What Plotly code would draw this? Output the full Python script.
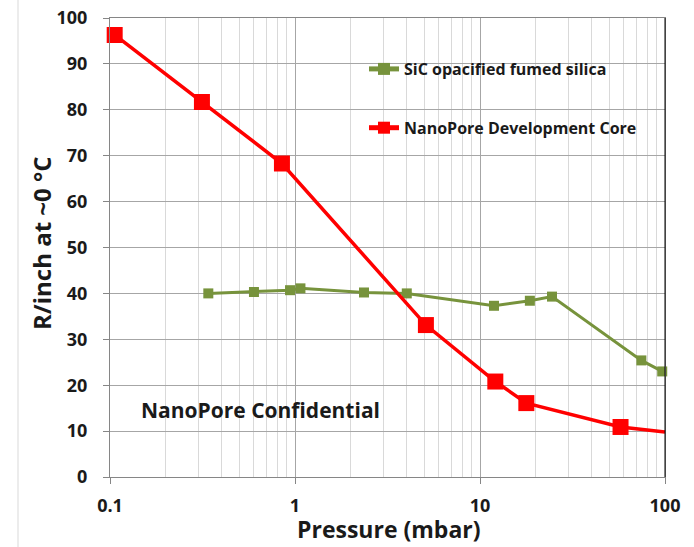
import plotly.graph_objects as go

# ---- data ----
sic_pressure = [0.34, 0.60, 0.94, 1.07, 2.36, 4.02, 11.9, 18.6, 24.5, 74.5, 96.6]
sic_r = [40.0, 40.3, 40.7, 41.1, 40.2, 40.0, 37.3, 38.4, 39.3, 25.4, 23.0]

nano_pressure = [0.106, 0.314, 0.85, 5.1, 12.1, 17.8, 57.5, 100]
nano_r = [96.3, 81.7, 68.3, 33.1, 20.8, 16.1, 10.9, 9.8]

series_names = ["SiC opacified fumed silica", "NanoPore Development Core"]
x_tick_vals = [0.1, 1, 10, 100]
x_tick_text = ["0.1", "1", "10", "100"]
y_tick_vals = [0, 10, 20, 30, 40, 50, 60, 70, 80, 90, 100]
x_title = "Pressure (mbar)"
y_title = "R/inch at ~0 °C"
note_text = "NanoPore Confidential"

# ---- styles ----
GREEN = "#77933C"
RED = "#FF0000"
FONT = "Open Sans"
TXT = "#1a1a1a"
nano_marker_sizes = [16] * (len(nano_pressure) - 1) + [0]

fig = go.Figure()
fig.add_trace(go.Scatter(
    x=sic_pressure, y=sic_r, mode="lines+markers", name=series_names[0],
    legendgroup="g1",
    line=dict(color=GREEN, width=3),
    marker=dict(symbol="square", size=10, color=GREEN, opacity=1),
    cliponaxis=False,
))
fig.add_trace(go.Scatter(
    x=nano_pressure, y=nano_r, mode="lines+markers", name=series_names[1],
    legendgroup="g2",
    line=dict(color=RED, width=3.5),
    marker=dict(symbol="square", size=nano_marker_sizes, color=RED, opacity=1,
                line=dict(width=0)),
    cliponaxis=False,
))

L, R, T, B = 110, 29, 18, 70
W, H = 694, 547
pw, ph = W - L - R, H - T - B

def px_x(p):
    return (p - L) / pw

def px_y(p):
    return (H - B - p) / ph

fig.update_layout(
    width=W, height=H,
    margin=dict(l=L, r=R, t=T, b=B, autoexpand=False),
    paper_bgcolor="white", plot_bgcolor="white",
    font=dict(family=FONT, color=TXT),
    showlegend=True,
    legend=dict(
        x=px_x(364), y=px_y(52), xanchor="left", yanchor="top",
        bgcolor="rgba(0,0,0,0)", borderwidth=0,
        font=dict(family=FONT, size=16, color=TXT, weight="bold"),
        traceorder="grouped", tracegroupgap=35,
        itemsizing="constant",
    ),
    xaxis=dict(
        type="log", range=[-1, 2], automargin=False,
        tickvals=x_tick_vals, ticktext=x_tick_text,
        showgrid=True, gridcolor="#A6A6A6", gridwidth=1,
        minor=dict(dtick="D1", showgrid=True, gridcolor="#D9D9D9", ticks=""),
        showline=True, linecolor="#868686", linewidth=1, mirror=True,
        ticks="outside", ticklen=6, tickcolor="#868686",
        tickfont=dict(family=FONT, size=18, color=TXT, weight="bold"),
        ticklabelstandoff=6,
        zeroline=False,
    ),
    yaxis=dict(
        range=[0, 100], tickvals=y_tick_vals, automargin=False,
        showgrid=True, gridcolor="#A6A6A6", gridwidth=1,
        showline=True, linecolor="#868686", linewidth=1, mirror=True,
        ticks="outside", ticklen=6, tickcolor="#868686",
        tickfont=dict(family=FONT, size=18, color=TXT, weight="bold"),
        ticklabelstandoff=12,
        zeroline=False,
    ),
    shapes=[
        dict(type="rect", xref="paper", yref="paper",
             x0=px_x(345), x1=px_x(655), y0=px_y(157), y1=px_y(38),
             fillcolor="white", line=dict(width=0), layer="between"),
        dict(type="line", xref="paper", yref="paper",
             x0=1, x1=1, y0=0, y1=1, line=dict(color="#000000", width=1)),
        dict(type="line", xref="paper", yref="paper",
             x0=px_x(18), x1=px_x(18), y0=px_y(547), y1=px_y(0),
             line=dict(color="#D9D9D9", width=1)),
    ],
    annotations=[
        dict(text=note_text, xref="paper", yref="paper",
             x=px_x(260), y=px_y(410), xanchor="center", yanchor="middle",
             showarrow=False,
             font=dict(family=FONT, size=21, color=TXT, weight="bold")),
        dict(text=y_title, xref="paper", yref="paper", textangle=-90,
             x=px_x(41), y=px_y(243), xanchor="center", yanchor="middle",
             showarrow=False,
             font=dict(family=FONT, size=24, color=TXT, weight="bold")),
        dict(text=x_title, xref="paper", yref="paper",
             x=px_x(389), y=px_y(546), xanchor="center", yanchor="bottom",
             showarrow=False, borderpad=0,
             font=dict(family=FONT, size=23, color=TXT, weight="bold")),
    ],
)

fig.write_html("out.html")
